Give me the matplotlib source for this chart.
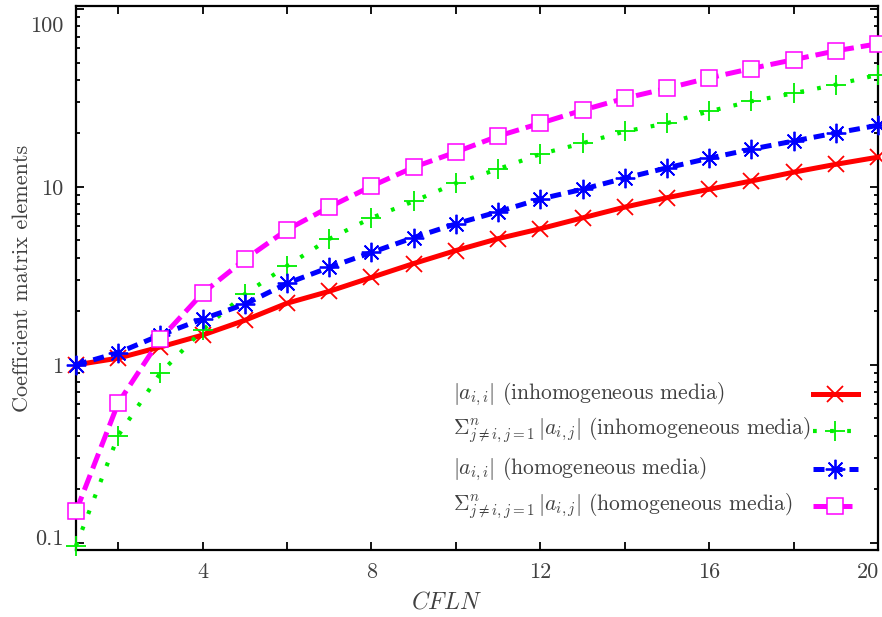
import numpy as np
import matplotlib
matplotlib.use("Agg")
import matplotlib.pyplot as plt
import matplotlib.transforms as mtransforms
from matplotlib.lines import Line2D

plt.rcParams['font.family'] = 'cmr10'
plt.rcParams['mathtext.fontset'] = 'cm'
plt.rcParams['axes.unicode_minus'] = False

# valores
cfln = list(range(1, 21))
diag_inhom = [1.0, 1.09, 1.26, 1.47, 1.78, 2.22, 2.59, 3.10, 3.71, 4.39,
              5.12, 5.82, 6.7, 7.7, 8.7, 9.7, 10.8, 12.1, 13.4, 14.7]
off_inhom = [0.096, 0.40, 0.90, 1.57, 2.5, 3.6, 5.1, 6.7, 8.3, 10.5,
             12.6, 15.3, 17.6, 20.5, 22.8, 26.6, 30.3, 33.6, 37.6, 42.7]
diag_hom = [1.0, 1.17, 1.47, 1.81, 2.19, 2.87, 3.53, 4.28, 5.19, 6.2,
            7.25, 8.56, 9.7, 11.2, 12.8, 14.5, 16.3, 18.1, 20.1, 22.2]
off_hom = [0.15, 0.61, 1.40, 2.53, 3.91, 5.75, 7.7, 10.1, 12.9, 15.7,
           19.3, 22.8, 27.0, 31.5, 35.8, 41.0, 46.3, 51.9, 58.2, 63.8]

labels = [r'$|a_{i,i}|$ (inhomogeneous media)',
          r'$\Sigma^{n}_{j\neq i,j=1}\,|a_{i,j}|$ (inhomogeneous media)',
          r'$|a_{i,i}|$ (homogeneous media)',
          r'$\Sigma^{n}_{j\neq i,j=1}\,|a_{i,j}|$ (homogeneous media)']
ytick_vals = [0.1, 1, 10, 100]
ytick_labels = ['0.1', '1', '10', '100']
xtick_vals = [4, 8, 12, 16, 20]

gray = '#404040'

styles = [
    dict(color='#ff0000', lw=3.6, ls='-', marker='x', ms=12, mew=1.3),
    dict(color='#00ee00', lw=3.0, ls=(0, (0.9, 3.2)), marker='+', ms=14, mew=1.3),
    dict(color='#0000ff', lw=3.6, ls=(0, (2.2, 1.4)), marker=(8, 2, 0), ms=14, mew=1.3),
    dict(color='#ff00ff', lw=3.6, ls=(0, (3.2, 1.4)), marker='s', ms=12, mew=1.1,
         mfc='white', mec='#ff00ff'),
]
series = [diag_inhom, off_inhom, diag_hom, off_hom]

fig = plt.figure(figsize=(8.82, 6.17), dpi=100)
ax = fig.add_axes([76 / 882, 1 - 550 / 617, 802 / 882, 544 / 617])

for vals, st in zip(series, styles):
    ax.plot(cfln, vals, clip_on=False, zorder=3, **st)

ax.set_yscale('log')
ax.set_xlim(1, 20)
ax.set_ylim(0.091, 104)

ax.set_xticks(np.arange(2, 21, 2))
ax.set_xticklabels(['' if v not in xtick_vals else str(v) for v in range(2, 21, 2)])
ax.set_yticks(ytick_vals)
ax.set_yticklabels(ytick_labels)
ax.yaxis.set_minor_locator(matplotlib.ticker.LogLocator(base=10, subs=np.arange(2, 10)))
ax.yaxis.set_minor_formatter(matplotlib.ticker.NullFormatter())

ax.tick_params(which='both', direction='in', top=True, right=True,
               labelsize=16, labelcolor=gray, width=1.3)
ax.tick_params(axis='x', which='major', length=6, pad=9)
ax.tick_params(axis='y', which='major', length=6, pad=9)
ax.tick_params(axis='y', which='minor', length=3)
for sp in ax.spines.values():
    sp.set_linewidth(1.6)

# etiquetas de los extremos desplazadas hacia dentro
ylabs = ax.get_yticklabels()
ylabs[-1].set_transform(ylabs[-1].get_transform() +
                        mtransforms.ScaledTranslation(0, -11 / 72, fig.dpi_scale_trans))
ylabs[0].set_transform(ylabs[0].get_transform() +
                       mtransforms.ScaledTranslation(0, 4 / 72, fig.dpi_scale_trans))
xlabs = ax.get_xticklabels()
xlabs[-1].set_transform(xlabs[-1].get_transform() +
                        mtransforms.ScaledTranslation(-7 / 72, 0, fig.dpi_scale_trans))

ax.set_xlabel(r'$CFLN$', fontsize=17, color=gray, va='center')
ax.xaxis.set_label_coords(0.4625, -0.097)
ax.set_ylabel('Coefficient matrix elements', fontsize=16, color=gray, va='center')
ax.yaxis.set_label_coords(-0.067, 0.5)

# leyenda manual: texto alineado a la izquierda, muestras a la derecha
rows_y = [0.287, 0.219, 0.149, 0.081]
for lab, st, yy in zip(labels, styles, rows_y):
    ax.text(0.470, yy, lab, transform=ax.transAxes, fontsize=15.5, color=gray,
            va='center', ha='left')
    ax.add_line(Line2D([0.919, 0.975], [yy, yy], transform=ax.transAxes,
                       color=st['color'], lw=st['lw'], ls=st['ls']))
    ax.add_line(Line2D([0.946], [yy], transform=ax.transAxes, color=st['color'],
                       marker=st['marker'], ms=st['ms'], mew=st['mew'],
                       mfc=st.get('mfc', st['color']), mec=st.get('mec', st['color']),
                       ls='none'))

fig.savefig('out.png', dpi=100)
